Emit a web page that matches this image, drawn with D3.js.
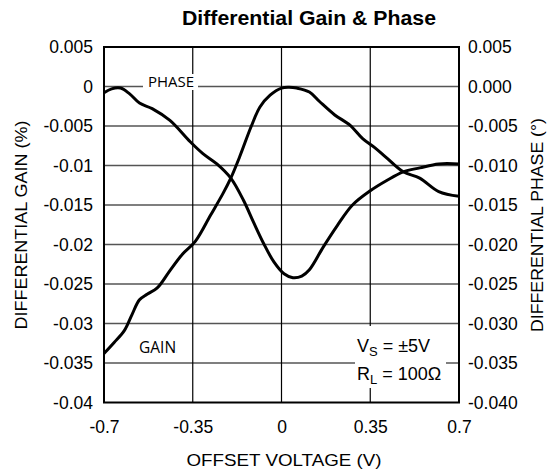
<!DOCTYPE html>
<html>
<head>
<meta charset="utf-8">
<script src="https://cdn.jsdelivr.net/npm/d3@7"></script>
<style>
  html, body { margin: 0; padding: 0; background: #fff; }
  svg { display: block; }
</style>
</head>
<body>
<div id="chart"></div>
<script>
// ---- data ----
const xTicks = [-0.7, -0.35, 0, 0.35, 0.7];
const xTickLabels = ["-0.7", "-0.35", "0", "0.35", "0.7"];
const yTicks = [0.005, 0, -0.005, -0.01, -0.015, -0.02, -0.025, -0.03, -0.035, -0.04];
const leftTickLabels = ["0.005", "0", "-0.005", "-0.01", "-0.015", "-0.02", "-0.025", "-0.03", "-0.035", "-0.04"];
const rightTickLabels = ["0.005", "0.000", "-0.005", "-0.010", "-0.015", "-0.020", "-0.025", "-0.030", "-0.035", "-0.040"];

const gainX = [-0.7, -0.66, -0.62, -0.59, -0.56, -0.53, -0.49, -0.44, -0.39, -0.34, -0.28, -0.23, -0.20, -0.165, -0.12, -0.085, -0.045, 0, 0.03, 0.06, 0.11, 0.15, 0.21, 0.27, 0.32, 0.37, 0.41, 0.48, 0.545, 0.62, 0.7];
const gainY = [-0.0338, -0.0324, -0.0309, -0.0289, -0.0270, -0.0263, -0.0255, -0.0233, -0.0212, -0.0196, -0.0163, -0.0135, -0.0116, -0.0089, -0.0051, -0.0026, -0.0011, -0.0002, -0.0001, -0.0002, -0.0007, -0.0019, -0.0036, -0.0049, -0.0066, -0.0078, -0.0089, -0.0108, -0.0116, -0.0133, -0.0139];

const phaseX = [-0.7, -0.67, -0.635, -0.6, -0.56, -0.51, -0.44, -0.36, -0.31, -0.255, -0.20, -0.15, -0.11, -0.07, -0.03, 0.01, 0.045, 0.08, 0.11, 0.165, 0.22, 0.28, 0.35, 0.415, 0.48, 0.545, 0.62, 0.7];
const phaseY = [-0.0008, -0.0003, -0.0002, -0.0009, -0.0021, -0.0028, -0.0043, -0.0070, -0.0085, -0.0098, -0.0116, -0.0144, -0.0172, -0.0199, -0.0222, -0.0237, -0.0242, -0.0240, -0.0232, -0.0203, -0.0176, -0.0150, -0.0132, -0.0119, -0.0108, -0.0103, -0.0098, -0.0098];

const title = "Differential Gain & Phase";
const xTitle = "OFFSET VOLTAGE (V)";
const yLeftTitle = "DIFFERENTIAL GAIN (%)";
const yRightTitle = "DIFFERENTIAL PHASE (°)";

// ---- layout ----
const W = 551, H = 474;
const L = 104, R = 459, T = 47, B = 402.5;
const FONT = "'Liberation Sans', Arial, Helvetica, sans-serif";
const LBLFONT = "'Open Sans', 'Noto Sans', sans-serif";

const svg = d3.select("#chart").append("svg")
  .attr("width", W).attr("height", H);

const x = d3.scaleLinear().domain([-0.7, 0.7]).range([L, R]);
const y = d3.scaleLinear().domain([-0.04, 0.005]).range([B, T]);

// grid lines
svg.append("g").selectAll("line.h").data(yTicks.slice(1, -1)).join("line")
  .attr("x1", L).attr("x2", R)
  .attr("y1", d => y(d)).attr("y2", d => y(d))
  .attr("stroke", "#555").attr("stroke-width", 1.4);
svg.append("g").selectAll("line.v").data(xTicks.slice(1, -1)).join("line")
  .attr("y1", T).attr("y2", B)
  .attr("x1", d => x(d)).attr("x2", d => x(d))
  .attr("stroke", "#000").attr("stroke-width", 1.2);

// label backgrounds (break grid lines)
svg.append("rect").attr("x", 143).attr("y", 74).attr("width", 55).attr("height", 16).attr("fill", "#fff");
svg.append("rect").attr("x", 355).attr("y", 326).attr("width", 91).attr("height", 62).attr("fill", "#fff");

// curves
const line = d3.line().curve(d3.curveCatmullRom.alpha(0.5))
  .x(d => x(d[0])).y(d => y(d[1]));
const gain = gainX.map((v, i) => [v, gainY[i]]);
const phase = phaseX.map((v, i) => [v, phaseY[i]]);
svg.append("path").attr("d", line(gain)).attr("fill", "none")
  .attr("stroke", "#000").attr("stroke-width", 3).attr("stroke-linejoin", "round");
svg.append("path").attr("d", line(phase)).attr("fill", "none")
  .attr("stroke", "#000").attr("stroke-width", 3).attr("stroke-linejoin", "round");

// frame
svg.append("rect").attr("x", L).attr("y", T).attr("width", R - L).attr("height", B - T)
  .attr("fill", "none").attr("stroke", "#000").attr("stroke-width", 2);

// axes (labels only)
const leftAxis = d3.axisLeft(y).tickValues(yTicks).tickSize(0).tickPadding(11)
  .tickFormat((d, i) => leftTickLabels[i]);
const gl = svg.append("g").attr("transform", `translate(${L},0)`).call(leftAxis);
const rightAxis = d3.axisRight(y).tickValues(yTicks).tickSize(0).tickPadding(9)
  .tickFormat((d, i) => rightTickLabels[i]);
const gr = svg.append("g").attr("transform", `translate(${R},0)`).call(rightAxis);
const bottomAxis = d3.axisBottom(x).tickValues(xTicks).tickSize(0).tickPadding(18)
  .tickFormat((d, i) => xTickLabels[i]);
const gb = svg.append("g").attr("transform", `translate(0,${B})`).call(bottomAxis);
[gl, gr, gb].forEach(g => {
  g.select(".domain").remove();
  g.selectAll("text").attr("font-family", FONT).attr("font-size", "17.5px").attr("fill", "#000");
});

// titles
svg.append("text").attr("x", 309).attr("y", 25).attr("text-anchor", "middle")
  .attr("font-family", FONT).attr("font-weight", "bold").attr("font-size", "20px")
  .attr("textLength", 254).attr("lengthAdjust", "spacingAndGlyphs").text(title);
svg.append("text").attr("x", 284).attr("y", 466).attr("text-anchor", "middle")
  .attr("font-family", FONT).attr("font-size", "17px")
  .attr("textLength", 195).attr("lengthAdjust", "spacingAndGlyphs").text(xTitle);
svg.append("text").attr("transform", "translate(27,225) rotate(-90)").attr("text-anchor", "middle")
  .attr("font-family", FONT).attr("font-size", "17px")
  .attr("textLength", 209).attr("lengthAdjust", "spacingAndGlyphs").text(yLeftTitle);
svg.append("text").attr("transform", "translate(543,225) rotate(-90)").attr("text-anchor", "middle")
  .attr("font-family", FONT).attr("font-size", "17px")
  .attr("textLength", 214).attr("lengthAdjust", "spacingAndGlyphs").text(yRightTitle);

// curve labels
svg.append("text").attr("x", 148).attr("y", 87).attr("font-family", LBLFONT).attr("font-size", "15px").text("PHASE");
svg.append("text").attr("x", 139).attr("y", 353).attr("font-family", LBLFONT).attr("font-size", "15.5px").text("GAIN");

// conditions
const c1 = svg.append("text").attr("x", 357).attr("y", 352).attr("font-family", FONT).attr("font-size", "18px");
c1.append("tspan").text("V");
c1.append("tspan").attr("font-size", "13px").attr("dy", 4).text("S");
c1.append("tspan").attr("dy", -4).text(" = ±5V");
const c2 = svg.append("text").attr("x", 357).attr("y", 380).attr("font-family", FONT).attr("font-size", "18px");
c2.append("tspan").text("R");
c2.append("tspan").attr("font-size", "13px").attr("dy", 4).text("L");
c2.append("tspan").attr("dy", -4).text(" = 100Ω");
</script>
</body>
</html>
